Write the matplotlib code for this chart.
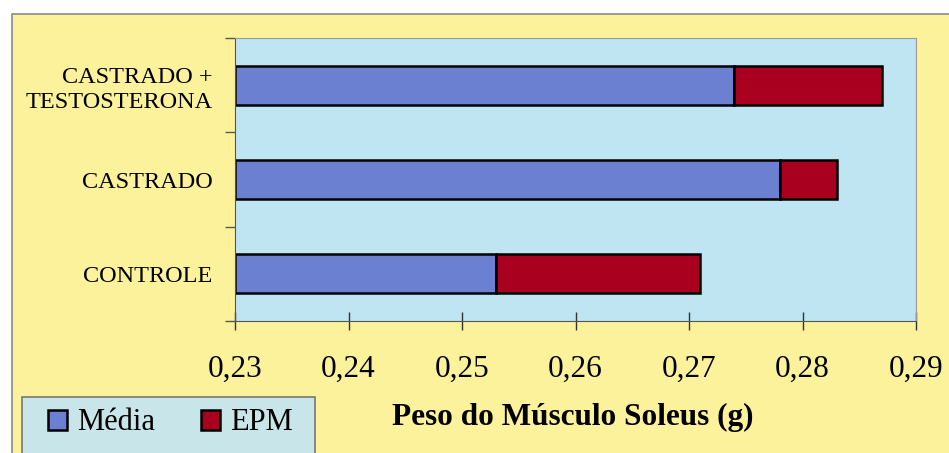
import numpy as np
from matplotlib import pyplot as plt
from matplotlib.patches import Rectangle
from matplotlib.ticker import FuncFormatter

grupos = ["CONTROLE", "CASTRADO", "CASTRADO +\nTESTOSTERONA"]
media = [0.253, 0.278, 0.274]
epm = [0.018, 0.005, 0.013]
xticks = [0.23, 0.24, 0.25, 0.26, 0.27, 0.28, 0.29]

plt.rcParams["font.family"] = ["Liberation Serif", "DejaVu Serif"]

fig = plt.figure(figsize=(9.49, 4.53), dpi=100)
fig.patch.set_facecolor("white")

# yellow chart area with grey frame
fig.add_artist(Rectangle((12 / 949, -0.05), 1.0, 1 - 14 / 453 + 0.05, transform=fig.transFigure,
                         facecolor="#fdf29c", edgecolor="#8a8a8a", linewidth=1.2, zorder=0))

ax = fig.add_axes([235 / 949, 1 - 321 / 453, (916 - 235) / 949, (321 - 38) / 453])
ax.set_facecolor("#bfe4f2")

y = np.arange(len(grupos))
left0 = 0.23
ax.barh(y, np.array(media) - left0, left=left0, height=0.41, color="#6c80d2",
        edgecolor="black", linewidth=1.8, label="Média")
ax.barh(y, epm, left=media, height=0.41, color="#a8001e",
        edgecolor="black", linewidth=1.8, label="EPM")

ax.set_xlim(0.23, 0.29)
ax.set_ylim(-0.5, 2.5)
ax.set_xticks(xticks)
ax.xaxis.set_major_formatter(FuncFormatter(lambda v, p: f"{v:.2f}".replace(".", ",")))
ax.tick_params(axis="x", direction="inout", length=13, width=1, labelsize=22.5, pad=18, colors="#333333",
               labelcolor="black")

ax.set_yticks(y)
ax.set_yticklabels(grupos, fontsize=17.5, linespacing=1.3)
ax.set_yticks(np.arange(-0.5, len(grupos), 1.0), minor=True)
ax.tick_params(axis="y", which="major", length=0, pad=16)
ax.tick_params(axis="y", which="minor", direction="out", length=7, width=1, colors="#555555")

for s in ["left", "bottom"]:
    ax.spines[s].set_color("#555555")
for s in ["top", "right"]:
    ax.spines[s].set_color("#9a9a9a")

fig.text(573 / 949, 1 - 417 / 453, "Peso do Músculo Soleus (g)", ha="center", va="center",
         fontsize=22.5, fontweight="bold")

# legend box (frame drawn separately, runs off the bottom edge)
fig.add_artist(Rectangle((22 / 949, -0.05), (315 - 22) / 949, 1 - 397 / 453 + 0.05,
                         transform=fig.transFigure, facecolor="#c8e6ea", edgecolor="#777777",
                         linewidth=1.2, zorder=1))
leg = fig.legend(loc="center left", bbox_to_anchor=(48 / 949, 1 - 423 / 453), ncol=2,
                 fontsize=22, frameon=False, borderaxespad=0, borderpad=0,
                 handlelength=0.62, handleheight=0.62, handletextpad=0.33, columnspacing=1.5)
leg.set_zorder(2)

fig.savefig("out.png", dpi=100)
